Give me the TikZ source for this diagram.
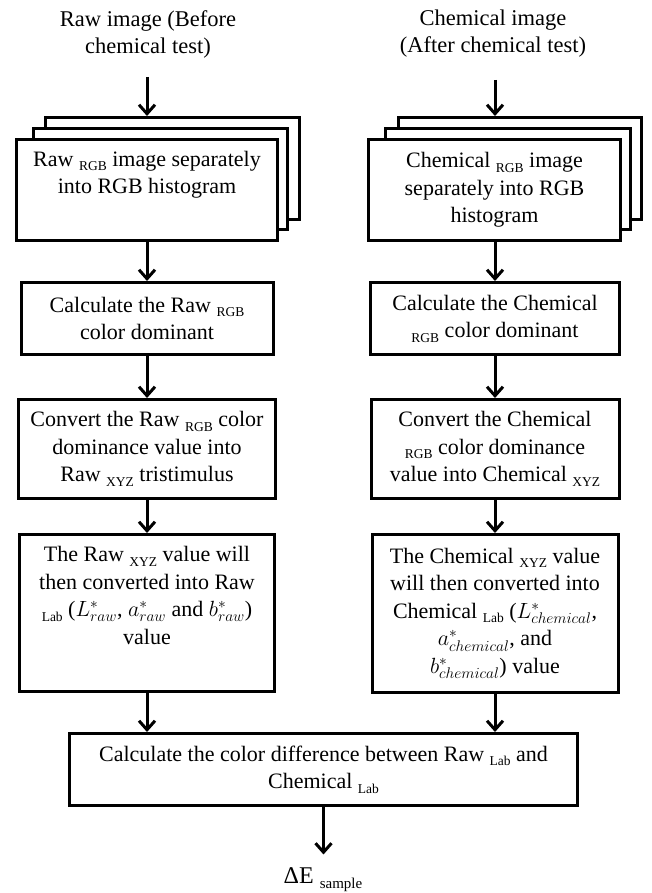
\RequirePackage{fix-cm}
\documentclass[tikz,border=0pt]{standalone}
\usepackage{fontspec}
\setmainfont{Liberation Serif}
\usetikzlibrary{arrows.meta}
\newcommand{\sbt}[1]{\raisebox{-0.45ex}{\fontsize{13.5}{13.5}\selectfont #1}}
\begin{document}
\begin{tikzpicture}[x=1pt,y=-1pt,
  box/.style={draw, line width=3pt, fill=white, align=center, inner sep=0pt,
    font=\fontsize{22}{27.5}\selectfont},
  head/.style={align=center, font=\fontsize{22.5}{27}\selectfont},
  arr/.style={line width=3pt, -{Straight Barb[length=9pt,width=16pt]}}]
\useasboundingbox (0,0) rectangle (651,893);

% headers
\node[head] (hL) at (148,34) {Raw image (Before\\chemical test)};
\node[head] (hR) at (493,34) {Chemical image\\(After chemical test)};

% left stack
\node[box, minimum width=254, minimum height=102] (s1b) at (172.5,168.5) {};
\node[box, minimum width=254, minimum height=101] (s1m) at (160.5,179) {};
\node[box, minimum width=261, minimum height=101] (s1) at (147,190)
  {Raw \sbt{RGB} image separately\\into RGB histogram\\\strut};

% right stack
\node[box, minimum width=243, minimum height=102] (r1b) at (520,168.5) {};
\node[box, minimum width=245, minimum height=101] (r1m) at (508,179) {};
\node[box, minimum width=252, minimum height=101] (r1) at (494.5,190)
  {Chemical \sbt{RGB} image\\separately into RGB\\histogram};

% second row
\node[box, minimum width=252, minimum height=72] (l2) at (147,318.5)
  {Calculate the Raw \sbt{RGB}\\color dominant};
\node[box, minimum width=249, minimum height=72] (r2) at (495,318.5)
  {Calculate the Chemical\\\sbt{RGB} color dominant};

% third row
\node[box, minimum width=257, minimum height=99] (l3) at (147,449)
  {Convert the Raw \sbt{RGB} color\\dominance value into\\Raw \sbt{XYZ} tristimulus};
\node[box, minimum width=248, minimum height=99] (r3) at (495,449)
  {Convert the Chemical\\\sbt{RGB} color dominance\\value into Chemical \sbt{XYZ}};

% fourth row
\node[box, minimum width=255, minimum height=157] (l4) at (147,613)
  {The Raw \sbt{XYZ} value will\\then converted into Raw\\\sbt{Lab} ($L^*_{raw}$, $a^*_{raw}$ and $b^*_{raw}$)\\value\\\strut};
\node[box, minimum width=246, minimum height=158] (r4) at (495,613.5)
  {The Chemical \sbt{XYZ} value\\will then converted into\\Chemical \sbt{Lab} ($L^*_{chemical}$,\\$a^*_{chemical}$, and\\$b^*_{chemical}$) value};

% final box
\node[box, minimum width=508, minimum height=72] (b5) at (323.5,769.5)
  {Calculate the color difference between Raw \sbt{Lab} and\\Chemical \sbt{Lab}};

\node[font=\fontsize{24}{24}\selectfont] (de) at (323,880) {ΔE \sbt{\fontsize{15}{15}\selectfont sample}};

% connectors
\coordinate (aL) at (147,77);
\coordinate (aR) at (495,80);
\draw[arr] (aL) -- (aL |- s1b.north);
\draw[arr] (aR) -- (aR |- r1b.north);
\draw[arr] (s1.south) -- (s1.south |- l2.north);
\draw[arr] (r1.south -| r2.north) -- (r2.north);
\draw[arr] (l2.south) -- (l2.south |- l3.north);
\draw[arr] (r2.south) -- (r2.south |- r3.north);
\draw[arr] (l3.south) -- (l3.south |- l4.north);
\draw[arr] (r3.south) -- (r3.south |- r4.north);
\draw[arr] (l4.south) -- (l4.south |- b5.north);
\draw[arr] (r4.south) -- (r4.south |- b5.north);
\draw[arr, shorten >=10pt] (b5.south) -- (b5.south |- de.north);
\end{tikzpicture}
\end{document}
